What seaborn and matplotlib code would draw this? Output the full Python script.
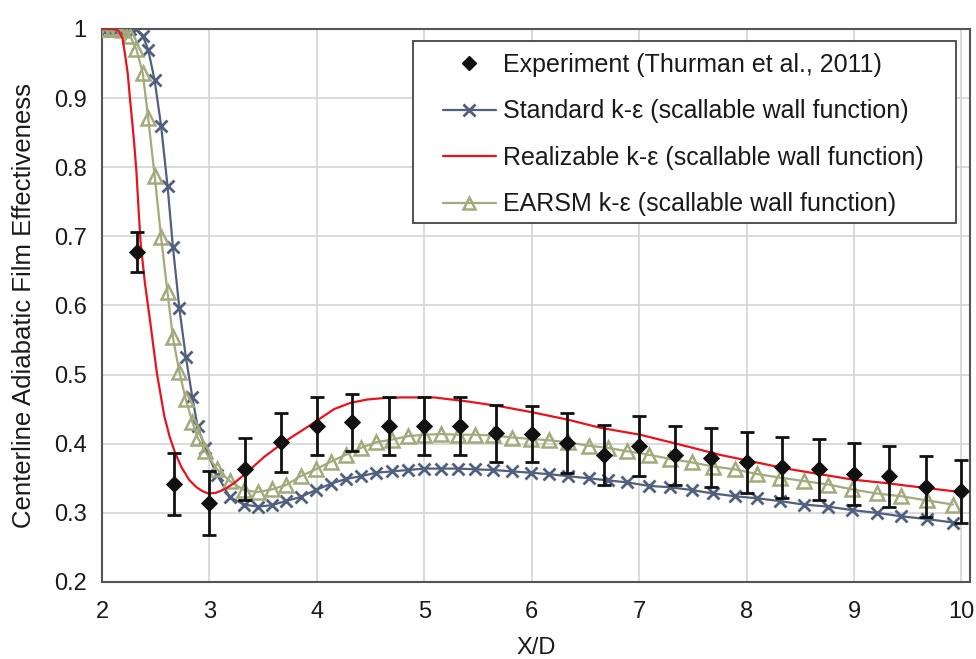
import numpy as np
import pandas as pd
import matplotlib
matplotlib.use("Agg")
import matplotlib.pyplot as plt
from matplotlib.lines import Line2D
from matplotlib.patches import Rectangle
import seaborn as sns

# ---------------- data ----------------
exp_x = [2.33, 2.67, 3.0, 3.33, 3.67, 4.0, 4.33, 4.67, 5.0, 5.33, 5.67, 6.0,
         6.33, 6.67, 7.0, 7.33, 7.67, 8.0, 8.33, 8.67, 9.0, 9.33, 9.67, 10.0]
exp_y = [0.677, 0.342, 0.314, 0.363, 0.402, 0.425, 0.431, 0.425, 0.425, 0.425, 0.415, 0.414,
         0.401, 0.384, 0.397, 0.383, 0.380, 0.373, 0.366, 0.363, 0.356, 0.353, 0.338, 0.331]
exp_err = [0.029, 0.045, 0.046, 0.045, 0.043, 0.042, 0.041, 0.042, 0.042, 0.042, 0.041, 0.041,
           0.043, 0.043, 0.043, 0.043, 0.043, 0.044, 0.044, 0.044, 0.045, 0.044, 0.044, 0.046]

cfd_x = [2.0, 2.05, 2.1, 2.15, 2.2, 2.26, 2.32, 2.38, 2.43, 2.49, 2.55, 2.61, 2.66, 2.72,
         2.78, 2.84, 2.89, 2.96, 3.07, 3.19, 3.32, 3.45, 3.58, 3.71, 3.85, 3.99, 4.13,
         4.27, 4.41, 4.55, 4.70, 4.85, 5.0, 5.16, 5.31, 5.47, 5.64, 5.82, 5.99, 6.16,
         6.34, 6.53, 6.71, 6.89, 7.09, 7.29, 7.49, 7.69, 7.89, 8.10, 8.31, 8.53, 8.76,
         8.98, 9.21, 9.44, 9.68, 9.92]
std_y = [1.0, 1.0, 1.0, 1.0, 1.0, 1.0, 1.0, 0.99, 0.97, 0.926, 0.86, 0.773, 0.685, 0.596,
         0.526, 0.468, 0.425, 0.394, 0.355, 0.323, 0.312, 0.309, 0.311, 0.317, 0.323, 0.333, 0.342,
         0.349, 0.353, 0.358, 0.360, 0.362, 0.364, 0.364, 0.364, 0.363, 0.362, 0.360, 0.358, 0.356,
         0.353, 0.350, 0.347, 0.344, 0.339, 0.337, 0.333, 0.328, 0.324, 0.321, 0.317, 0.312, 0.309,
         0.304, 0.300, 0.295, 0.291, 0.286]
earsm_y = [1.0, 1.0, 1.0, 1.0, 0.998, 0.99, 0.971, 0.936, 0.871, 0.788, 0.699, 0.619, 0.554, 0.504,
           0.464, 0.432, 0.409, 0.389, 0.363, 0.346, 0.333, 0.330, 0.334, 0.340, 0.353, 0.363, 0.374,
           0.384, 0.394, 0.402, 0.406, 0.411, 0.413, 0.414, 0.413, 0.413, 0.412, 0.409, 0.407, 0.405,
           0.402, 0.397, 0.394, 0.389, 0.384, 0.378, 0.373, 0.367, 0.363, 0.356, 0.351, 0.346, 0.341,
           0.334, 0.328, 0.324, 0.318, 0.312]

real_x = [2.0, 2.1, 2.15, 2.19, 2.21, 2.24, 2.26, 2.28, 2.30, 2.32, 2.34, 2.36, 2.40, 2.45, 2.51,
          2.58, 2.63, 2.68, 2.74, 2.81, 2.88, 2.94, 2.99, 3.06, 3.14, 3.23, 3.33, 3.51, 3.70, 3.92,
          4.16, 4.31, 4.47, 4.62, 4.78, 5.09, 5.41, 5.71, 6.02, 6.33, 6.64, 7.01, 7.45, 7.75, 8.06,
          8.37, 8.68, 8.99, 9.30, 9.61, 10.0]
real_y = [1.0, 1.0, 0.998, 0.987, 0.968, 0.935, 0.9, 0.868, 0.834, 0.795, 0.74, 0.69, 0.632, 0.575,
          0.503, 0.44, 0.410, 0.387, 0.366, 0.348, 0.337, 0.331, 0.328, 0.329, 0.334, 0.343,
          0.356, 0.381, 0.403, 0.425, 0.450, 0.459, 0.464, 0.466, 0.467, 0.467, 0.461, 0.454,
          0.445, 0.435, 0.423, 0.413, 0.396, 0.384, 0.374, 0.364, 0.356, 0.348, 0.343, 0.337, 0.330]

labels = ["Experiment (Thurman et al., 2011)",
          "Standard k-\u03b5 (scallable wall function)",
          "Realizable k-\u03b5 (scallable wall function)",
          "EARSM k-\u03b5 (scallable wall function)"]
xticks = [2, 3, 4, 5, 6, 7, 8, 9, 10]
yticks = [0.2, 0.3, 0.4, 0.5, 0.6, 0.7, 0.8, 0.9, 1.0]
ytick_labels = ["0.2", "0.3", "0.4", "0.5", "0.6", "0.7", "0.8", "0.9", "1"]

# ---------------- style ----------------
sns.set_theme(style="white")
plt.rcParams['font.family'] = ['Liberation Sans', 'DejaVu Sans']

C_STD = "#51607f"
C_REAL = "#e8141c"
C_EAR = "#a3aa7b"
C_TXT = "#1a1a1a"

fig = plt.figure(figsize=(9.76, 6.59), dpi=100)
ax = fig.add_axes([0.1045, 0.1169, 0.8894, 0.8391])

df_std = pd.DataFrame({"x": cfd_x, "y": std_y})
df_ear = pd.DataFrame({"x": cfd_x, "y": earsm_y})
df_real = pd.DataFrame({"x": real_x, "y": real_y})
df_exp = pd.DataFrame({"x": exp_x, "y": exp_y, "e": exp_err})

sns.lineplot(data=df_std, x="x", y="y", ax=ax, color=C_STD, lw=1.6, marker="x",
             markersize=9, markeredgewidth=2.0, markeredgecolor=C_STD, sort=False, zorder=3)
sns.lineplot(data=df_real, x="x", y="y", ax=ax, color=C_REAL, lw=1.6, sort=False, zorder=4)
sns.lineplot(data=df_ear, x="x", y="y", ax=ax, color=C_EAR, lw=1.6, marker="^",
             markersize=10, markerfacecolor="none", markeredgecolor=C_EAR,
             markeredgewidth=1.8, sort=False, zorder=3)

ax.errorbar(df_exp["x"], df_exp["y"], yerr=df_exp["e"], fmt="none", ecolor="#111111",
            elinewidth=2.0, capsize=5, capthick=2.0, zorder=5)
sns.scatterplot(data=df_exp, x="x", y="y", ax=ax, marker="D", s=66, color="#111111",
                edgecolor="#111111", zorder=6)

ax.set_xlim(2, 10.08)
ax.set_ylim(0.2, 1.0)
ax.set_xticks(xticks)
ax.set_xticklabels([str(t) for t in xticks])
ax.set_yticks(yticks)
ax.set_yticklabels(ytick_labels)
ax.grid(True, color="#d4d4d4", lw=1.2)
ax.set_axisbelow(True)
for s in ax.spines.values():
    s.set_color("#555555")
    s.set_linewidth(1.5)
    s.set_visible(True)
ax.tick_params(axis="both", direction="in", length=5, width=1.2, colors="#333333",
               labelsize=17, labelcolor=C_TXT)
ax.tick_params(axis="x", pad=14)
ax.tick_params(axis="y", pad=11)
ax.set_xlabel("X/D", fontsize=17, color=C_TXT, labelpad=10)
ax.set_ylabel("Centerline Adiabatic Film Effectiveness", fontsize=18.5, color=C_TXT, labelpad=13)

# legend box (white, framed)
box = Rectangle((413 / 976, 1 - 223 / 659), (956 - 413) / 976, (223 - 41) / 659,
                transform=fig.transFigure, facecolor="white", edgecolor="#444444",
                linewidth=1.3, zorder=10)
ax.add_patch(box)
box.set_clip_on(False)

handles = [
    Line2D([], [], ls="none", marker="D", color="#111111", markersize=7.5),
    Line2D([], [], color=C_STD, lw=1.6, marker="x", markersize=9, markeredgewidth=2),
    Line2D([], [], color=C_REAL, lw=1.6),
    Line2D([], [], color=C_EAR, lw=1.6, marker="^", markersize=9, markerfacecolor="none",
           markeredgewidth=1.8),
]
leg = ax.legend(handles, labels, loc="upper left", bbox_to_anchor=(0.3929, 0.957),
                fontsize=18, frameon=False, labelspacing=0.9, handlelength=2.1,
                handletextpad=0.3, borderpad=0, borderaxespad=0)
for t in leg.get_texts():
    t.set_color(C_TXT)
leg.set_zorder(20)

fig.savefig("out.png", dpi=100)
